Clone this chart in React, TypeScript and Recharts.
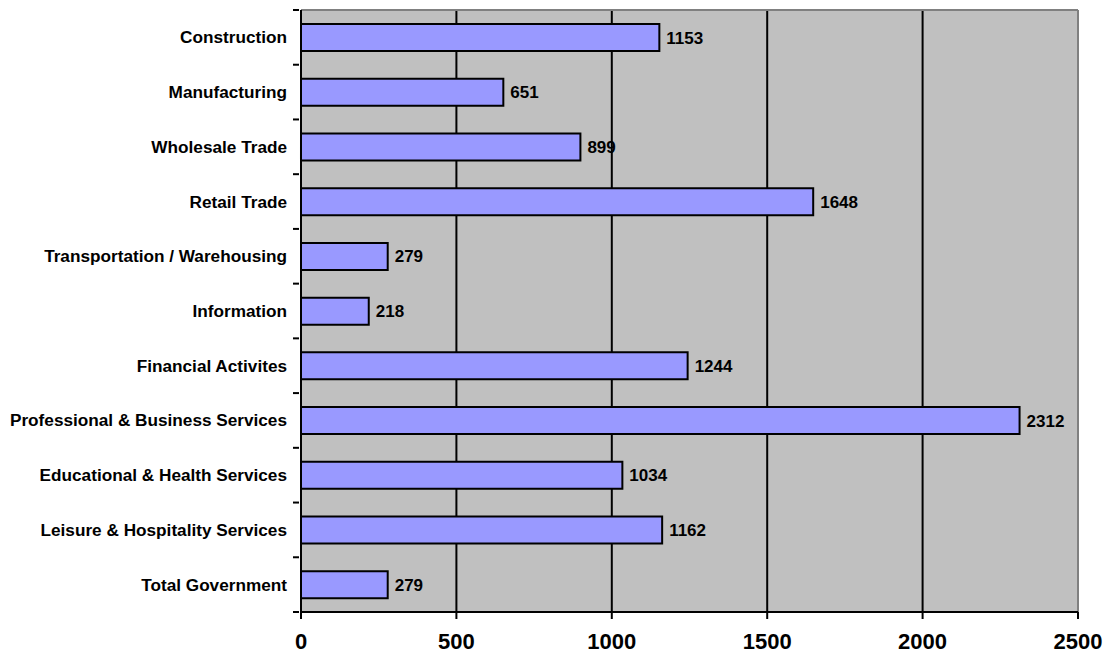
import React from "react";
import { BarChart, Bar, XAxis, YAxis, CartesianGrid, LabelList, ReferenceLine } from "recharts";

const categories = [
  "Construction",
  "Manufacturing",
  "Wholesale Trade",
  "Retail Trade",
  "Transportation / Warehousing",
  "Information",
  "Financial Activites",
  "Professional & Business Services",
  "Educational & Health Services",
  "Leisure & Hospitality Services",
  "Total Government",
];
const values = [1153, 651, 899, 1648, 279, 218, 1244, 2312, 1034, 1162, 279];
const xTicks = [0, 500, 1000, 1500, 2000, 2500];

const data = categories.map((name, i) => ({ name, value: values[i] }));

const W = 1107;
const H = 656;
const X_AXIS_H = 44;
const M = { top: 10, right: 29, bottom: 0, left: 0 };
const Y_AXIS_W = 301;
const FONT = "Arial, 'Liberation Sans', sans-serif";
const band = (H - M.top - X_AXIS_H) / categories.length;

const CatTick = (props: any) => {
  const { x, y, payload, index } = props;
  const ax = x + 6;
  return (
    <g>
      <line x1={ax - 6} x2={ax} y1={y - band / 2} y2={y - band / 2} stroke="#000" strokeWidth={2} />
      {index === categories.length - 1 && (
        <line x1={ax - 6} x2={ax} y1={y + band / 2} y2={y + band / 2} stroke="#000" strokeWidth={2} />
      )}
      <text
        x={ax - 12}
        y={y}
        textAnchor="end"
        dominantBaseline="central"
        fontFamily={FONT}
        fontWeight="bold"
        fontSize={17.2}
        fill="#000"
      >
        {payload.value}
      </text>
    </g>
  );
};

export default function App() {
  return (
    <div style={{ position: "absolute", left: 0, top: 0, width: W, height: H, background: "#fff" }}>
      <BarChart width={W} height={H} data={data} layout="vertical" margin={M}>
        <CartesianGrid
          horizontal={false}
          vertical={true}
          stroke="#000"
          strokeWidth={2}
          fill="#C0C0C0"
          fillOpacity={1}
        />
        <XAxis
          type="number"
          domain={[0, 2500]}
          ticks={xTicks}
          interval={0}
          axisLine={{ stroke: "#000", strokeWidth: 2 }}
          tickLine={{ stroke: "#000", strokeWidth: 2 }}
          tickSize={7}
          tickMargin={14}
          tick={{ fontFamily: FONT, fontWeight: "bold", fontSize: 22, fill: "#000" }}
          height={X_AXIS_H}
        />
        <YAxis
          type="category"
          dataKey="name"
          width={Y_AXIS_W}
          axisLine={{ stroke: "#000", strokeWidth: 2 }}
          tickLine={false}
          interval={0}
          tick={<CatTick />}
        />
        <ReferenceLine x={2500} stroke="#808080" strokeWidth={2} />
        <ReferenceLine y={categories[0]} position="start" stroke="#808080" strokeWidth={2} />
        <Bar dataKey="value" barSize={27} fill="#9999FF" stroke="#000" strokeWidth={2} isAnimationActive={false}>
          <LabelList
            dataKey="value"
            position="right"
            offset={7}
            style={{ fontFamily: FONT, fontWeight: "bold", fontSize: 17, fill: "#000" }}
          />
        </Bar>
      </BarChart>
    </div>
  );
}
